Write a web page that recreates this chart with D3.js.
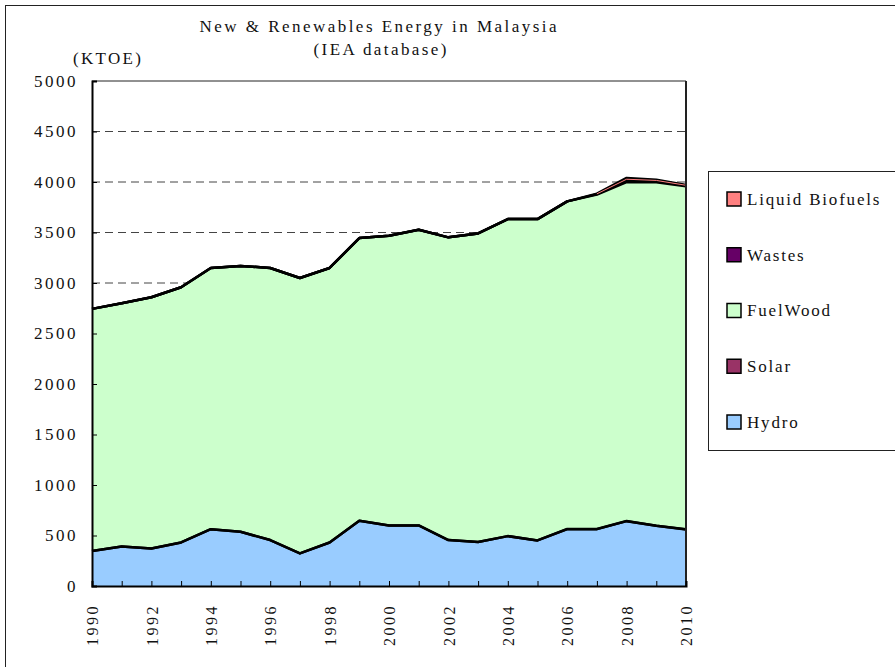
<!DOCTYPE html>
<html>
<head>
<meta charset="utf-8">
<script src="https://cdn.jsdelivr.net/npm/d3@7"></script>
<style>
  body { margin: 0; background: #fff; }
  text { font-family: "Liberation Serif", "DejaVu Serif", serif; fill: #111; }
</style>
</head>
<body>
<svg id="chart"></svg>
<script>
// values in KTOE
var years = [1990, 1991, 1992, 1993, 1994, 1995, 1996, 1997, 1998, 1999, 2000,
             2001, 2002, 2003, 2004, 2005, 2006, 2007, 2008, 2009, 2010];
var hydro = [346, 392, 372, 431, 563, 537, 455, 323, 431, 645, 600,
             600, 455, 435, 494, 451, 563, 563, 642, 596, 560];
var solar = [0, 0, 0, 0, 0, 0, 0, 0, 0, 0, 0,
             0, 0, 0, 0, 0, 1, 1, 1, 1, 1];
var fuelWood = [2398, 2408, 2487, 2527, 2586, 2632, 2694, 2727, 2718, 2800, 2868,
                2927, 2997, 3056, 3139, 3182, 3244, 3311, 3357, 3400, 3396];
var wastes = [0, 0, 0, 0, 0, 0, 0, 0, 0, 0, 0,
              0, 0, 0, 0, 0, 0, 5, 15, 12, 8];
var liquidBiofuels = [0, 0, 0, 0, 0, 0, 0, 0, 0, 0, 0,
                      0, 0, 0, 0, 0, 0, 5, 25, 13, 5];
var seriesNames = ["Hydro", "Solar", "FuelWood", "Wastes", "Liquid Biofuels"];
var seriesColors = ["#99CCFF", "#993366", "#CCFFCC", "#660066", "#FF8080"];
var yTicks = [0, 500, 1000, 1500, 2000, 2500, 3000, 3500, 4000, 4500, 5000];
var xLabels = [1990, 1992, 1994, 1996, 1998, 2000, 2002, 2004, 2006, 2008, 2010];

var svgWidth = 895, svgHeight = 667;
var svg = d3.select("#chart").attr("width", svgWidth).attr("height", svgHeight);

// outer chart frame (runs off the right and bottom edges)
svg.append("rect").attr("x", 5.5).attr("y", 5.5).attr("width", 920).attr("height", 700)
   .attr("fill", "#fff").attr("stroke", "#222").attr("stroke-width", 1);

var x = d3.scaleLinear().domain([1990, 2010]).range([92, 686]);
var y = d3.scaleLinear().domain([0, 5000]).range([586, 81]);

var table = years.map(function(yr, i) {
  return { year: yr, "Hydro": hydro[i], "Solar": solar[i], "FuelWood": fuelWood[i],
           "Wastes": wastes[i], "Liquid Biofuels": liquidBiofuels[i] };
});
var stacked = d3.stack().keys(seriesNames)(table);

// dashed gridlines
svg.append("g").selectAll("line")
  .data(yTicks.filter(function(t) { return t > 0 && t < 5000; }))
  .enter().append("line")
  .attr("x1", x(1990)).attr("x2", x(2010))
  .attr("y1", function(d) { return y(d); }).attr("y2", function(d) { return y(d); })
  .attr("stroke", "#444").attr("stroke-width", 1).attr("stroke-dasharray", "8,5");

var area = d3.area()
  .x(function(d) { return x(d.data.year); })
  .y0(function(d) { return y(d[0]); })
  .y1(function(d) { return y(d[1]); });
var topLine = d3.line()
  .x(function(d) { return x(d.data.year); })
  .y(function(d) { return y(d[1]); });

svg.append("g").selectAll("path").data(stacked).enter().append("path")
  .attr("d", area)
  .attr("fill", function(d, i) { return seriesColors[i]; });

svg.append("g").selectAll("path").data(stacked).enter().append("path")
  .attr("d", topLine)
  .attr("fill", "none")
  .attr("stroke", "#000")
  .attr("stroke-width", 2.5)
  .attr("stroke-linejoin", "round");

// thin red line showing the biofuels layer
svg.append("path").datum(stacked[4])
  .attr("d", d3.line()
    .defined(function(d) { return d[1] - d[0] > 3; })
    .x(function(d) { return x(d.data.year); })
    .y(function(d) { return y((d[0] + d[1]) / 2); }))
  .attr("fill", "none").attr("stroke", "#FF8080").attr("stroke-width", 1);

// plot frame
svg.append("line").attr("x1", x(1990)).attr("x2", x(2010)).attr("y1", y(5000)).attr("y2", y(5000))
   .attr("stroke", "#222").attr("stroke-width", 1);
svg.append("line").attr("x1", x(2010)).attr("x2", x(2010)).attr("y1", y(5000)).attr("y2", y(0))
   .attr("stroke", "#222").attr("stroke-width", 2);

// y axis with inside ticks
var yAxis = d3.axisLeft(y).tickValues(yTicks).tickSize(-5).tickPadding(14).tickFormat(d3.format("d"));
var gy = svg.append("g").attr("transform", "translate(" + x(1990) + ",0)").call(yAxis);
gy.select(".domain").attr("stroke", "#000").attr("stroke-width", 2);
gy.selectAll(".tick line").attr("stroke", "#000");
gy.selectAll("text").attr("font-size", 17).attr("letter-spacing", "2.5px")
  .attr("font-family", "Liberation Serif").attr("fill", "#111");

// x axis: ticks every year, labels every 2 years, rotated
var xAxis = d3.axisBottom(x).tickValues(years).tickSize(-5).tickFormat(function(d) {
  return xLabels.indexOf(d) >= 0 ? d : "";
});
var gx = svg.append("g").attr("transform", "translate(0," + y(0) + ")").call(xAxis);
gx.select(".domain").attr("stroke", "#000").attr("stroke-width", 2);
gx.selectAll(".tick line").attr("stroke", "#000");
gx.selectAll("text")
  .attr("font-size", 16).attr("letter-spacing", "2.5px")
  .attr("font-family", "Liberation Serif").attr("fill", "#111")
  .attr("transform", "rotate(-90)")
  .attr("text-anchor", "end")
  .attr("x", -18).attr("y", 0).attr("dy", "0.35em");

// titles
svg.append("text").attr("x", 378).attr("y", 32).attr("text-anchor", "middle")
   .attr("font-size", 17).attr("textLength", 357).attr("lengthAdjust", "spacing")
   .text("New & Renewables Energy in Malaysia");
svg.append("text").attr("x", 380).attr("y", 55).attr("text-anchor", "middle")
   .attr("font-size", 17).attr("textLength", 133).attr("lengthAdjust", "spacing")
   .text("(IEA database)");
svg.append("text").attr("x", 73).attr("y", 64)
   .attr("font-size", 17).attr("textLength", 68).attr("lengthAdjust", "spacing")
   .text("(KTOE)");

// legend, top entry first
var legend = svg.append("g");
legend.append("rect").attr("x", 708.5).attr("y", 171.5).attr("width", 200).attr("height", 279)
  .attr("fill", "#fff").attr("stroke", "#222").attr("stroke-width", 1);
var legendOrder = seriesNames.slice().reverse();
var legendY = d3.scalePoint().domain(legendOrder).range([199, 422]);
var item = legend.selectAll(".item").data(legendOrder).enter().append("g")
  .attr("transform", function(d) { return "translate(727," + legendY(d) + ")"; });
item.append("rect").attr("x", 0).attr("y", -7).attr("width", 14).attr("height", 14)
  .attr("fill", function(d) { return seriesColors[seriesNames.indexOf(d)]; })
  .attr("stroke", "#000").attr("stroke-width", 1.5);
item.append("text").attr("x", 20).attr("y", 0).attr("dy", "0.35em")
  .attr("font-size", 17).attr("letter-spacing", "1.8px")
  .text(function(d) { return d; });
</script>
</body>
</html>
